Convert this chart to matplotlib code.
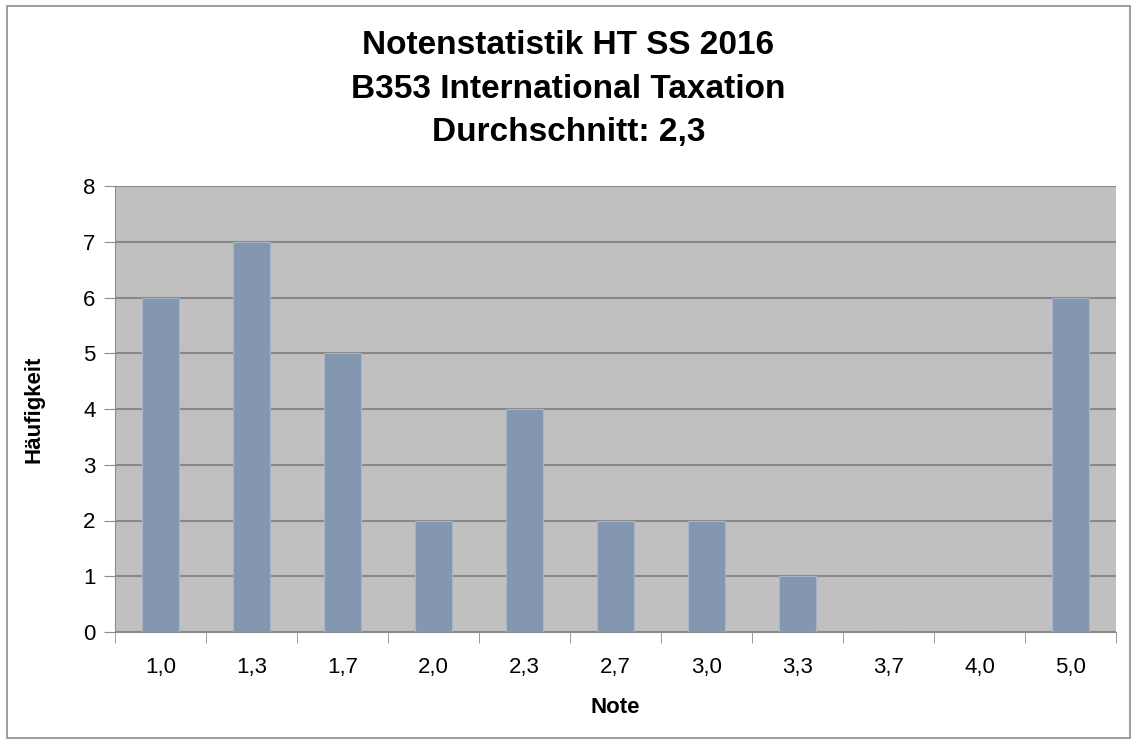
import matplotlib
matplotlib.use("Agg")
import matplotlib.pyplot as plt
from matplotlib.patches import Rectangle

# --- Data ---
noten = ["1,0", "1,3", "1,7", "2,0", "2,3", "2,7", "3,0", "3,3", "3,7", "4,0", "5,0"]
haeufigkeit = [6, 7, 5, 2, 4, 2, 2, 1, 0, 0, 6]
title_lines = ["Notenstatistik HT SS 2016", "B353 International Taxation", "Durchschnitt: 2,3"]

plt.rcParams["font.family"] = ["Liberation Sans", "DejaVu Sans"]

fig = plt.figure(figsize=(11.37, 7.44), dpi=100)
fig.patches.append(Rectangle((7 / 1137, 6 / 744), 1123 / 1137, 732 / 744,
                             transform=fig.transFigure, fill=False,
                             edgecolor="#8c8c8c", linewidth=1.2))

ax = fig.add_axes([115 / 1137, 1 - 632 / 744, (1116 - 115) / 1137, (632 - 186) / 744])
ax.set_facecolor("#c0c0c0")

x = range(len(noten))
ax.bar(x, haeufigkeit, width=0.4, color="#8497b0", edgecolor="#a6b4c6", linewidth=0.8, zorder=3)

ax.set_xlim(-0.5, len(noten) - 0.5)
ax.set_ylim(0, 8)
ax.set_yticks(range(0, 9))
ax.set_xticks(list(x))
ax.set_xticklabels(noten)
# category boundary ticks
ax.set_xticks([i - 0.5 for i in range(len(noten) + 1)], minor=True)
ax.tick_params(axis="x", which="major", length=0, pad=18, labelsize=16)
ax.tick_params(axis="x", which="minor", length=8, color="#8c8c8c", direction="out")
ax.tick_params(axis="y", length=8, color="#8c8c8c", labelsize=16, pad=6)

ax.yaxis.grid(True, color="#888888", linewidth=1.5, zorder=1)
ax.set_axisbelow(True)
for side in ["top", "right"]:
    ax.spines[side].set_visible(False)
ax.spines["left"].set_color("#8c8c8c")
ax.spines["bottom"].set_color("#8c8c8c")

ax.set_xlabel("Note", fontsize=16, fontweight="bold", labelpad=14)
ax.set_ylabel("Häufigkeit", fontsize=16, fontweight="bold", labelpad=28)

fig.text(0.5, 1 - 89 / 744, "\n".join(title_lines), ha="center", va="center",
         fontsize=24, fontweight="bold", linespacing=1.5)

fig.savefig("out.png", dpi=100)
